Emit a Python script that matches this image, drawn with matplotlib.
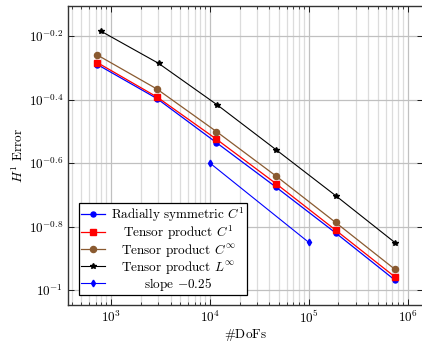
import numpy as np
import matplotlib
matplotlib.use('Agg')
import matplotlib.pyplot as plt
from matplotlib.ticker import FixedLocator, FuncFormatter, LogLocator, NullLocator
from matplotlib.transforms import Affine2D

plt.rcParams['font.family'] = 'serif'
plt.rcParams['font.serif'] = ['cmr10', 'DejaVu Serif']
plt.rcParams['mathtext.fontset'] = 'cm'
plt.rcParams['axes.formatter.use_mathtext'] = True
plt.rcParams['axes.unicode_minus'] = False

# DoFs per refinement level
dofs = [729, 2916, 11664, 46656, 186624, 746496]
dofs_linf = [784, 3025, 11881, 47089, 187489, 748225]

# H1 errors
err_radial = [0.5129, 0.4009, 0.2911, 0.2109, 0.1514, 0.1074]
err_c1 = [0.5200, 0.4055, 0.2985, 0.2163, 0.1545, 0.1099]
err_cinf = [0.5495, 0.4295, 0.3155, 0.2286, 0.1633, 0.1161]
err_linf = [0.6546, 0.5176, 0.3828, 0.2761, 0.1982, 0.1409]

# reference slope line
slope_x = [1e4, 1e5]
slope_y = [0.2512, 0.1413]

ytick_exps = [-1.0, -0.8, -0.6, -0.4, -0.2]

W, H = 422, 342
fig = plt.figure(figsize=(W / 100, H / 100), dpi=100)
ax = fig.add_axes([68 / W, (H - 304.7) / H, (423 - 68) / W, (304.7 - 6) / H])

brown = '#8a5a30'
ax.plot(dofs, err_radial, '-o', color='blue', lw=0.9, ms=3.6, label=r'Radially symmetric $C^1$', zorder=3)
ax.plot(dofs, err_c1, '-s', color='red', lw=0.9, ms=4.2, label=r'Tensor product $C^1$', zorder=3)
ax.plot(dofs, err_cinf, '-o', color=brown, lw=0.9, ms=4.4, label=r'Tensor product $C^\infty$', zorder=3)
ax.plot(dofs_linf, err_linf, '-*', color='black', lw=0.8, ms=4.2, label=r'Tensor product $L^\infty$', zorder=3)
ax.plot(slope_x, slope_y, '-d', color='blue', lw=0.8, ms=3.4, label=r'slope $-0.25$', zorder=3)

ax.set_xscale('log')
ax.set_yscale('log')
ax.set_xlim(10 ** 2.565, 10 ** 6.156)
ax.set_ylim(10 ** -1.0463, 10 ** -0.1055)

ax.yaxis.set_major_locator(FixedLocator([10 ** e for e in ytick_exps]))
ax.yaxis.set_minor_locator(NullLocator())

def yfmt(v, pos):
    e = np.log10(v)
    s = ('%.1f' % e).rstrip('0').rstrip('.')
    return r'$10^{%s}$' % s

ax.yaxis.set_major_formatter(FuncFormatter(yfmt))
ax.xaxis.set_minor_locator(LogLocator(base=10, subs=np.arange(2, 10)))

ax.tick_params(which='both', direction='in', top=True, right=True, labelsize=9.5)
ax.tick_params(which='major', length=4, width=0.6)
ax.tick_params(which='minor', length=2.5, width=0.5)

ax.grid(True, which='major', color='#c0c0c0', lw=0.9, zorder=0)
ax.grid(True, which='minor', axis='x', color='#dcdcdc', lw=0.9, zorder=0)
for sp in ax.spines.values():
    sp.set_color('#333333')
    sp.set_linewidth(1.0)

ax.set_xlabel(r'$\#$DoFs', fontsize=9.5, labelpad=1)
ax.set_ylabel(r'$H^1$ Error', fontsize=9.5, labelpad=2)

leg = ax.legend(loc='lower left', bbox_to_anchor=(0.031, 0.0325), borderaxespad=0,
                fontsize=9.5, frameon=True, fancybox=False, edgecolor='black',
                framealpha=1, handlelength=1.8, handletextpad=0.5,
                labelspacing=0.0, borderpad=0.15)
leg.get_frame().set_linewidth(0.9)

# center the legend labels like pgfplots does
renderer = fig.canvas.get_renderer()
texts = leg.get_texts()
widths = [t.get_window_extent(renderer).width for t in texts]
wmax = max(widths)
for t, w in zip(texts, widths):
    t.set_transform(t.get_transform() + Affine2D().translate((wmax - w) / 2, 0))

fig.savefig('out.png', dpi=100)
